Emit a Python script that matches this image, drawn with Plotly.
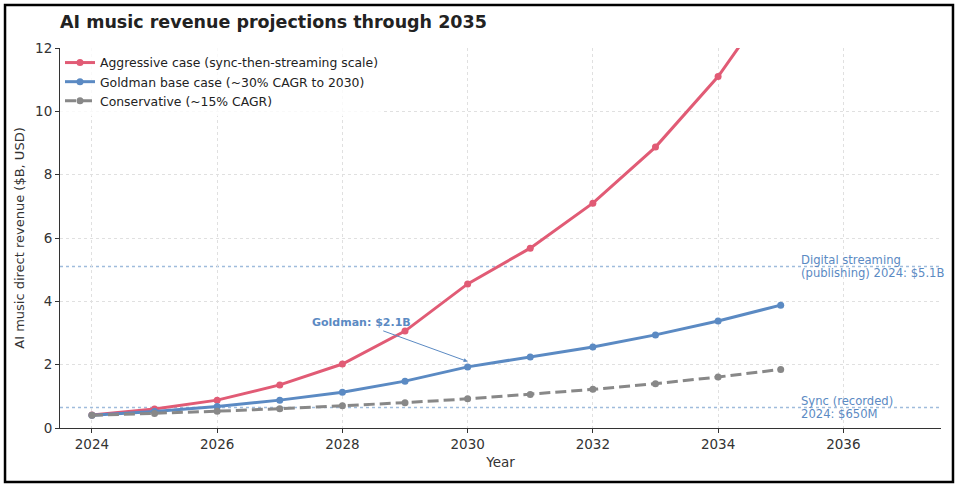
import plotly.graph_objects as go

# data
years = [2024, 2025, 2026, 2027, 2028, 2029, 2030, 2031, 2032, 2033, 2034, 2035]
aggressive = [0.41, 0.60, 0.88, 1.36, 2.02, 3.06, 4.55, 5.68, 7.10, 8.87, 11.10, 13.90]
goldman = [0.40, 0.52, 0.68, 0.88, 1.13, 1.48, 1.93, 2.24, 2.56, 2.94, 3.38, 3.88]
conservative = [0.40, 0.46, 0.53, 0.61, 0.70, 0.80, 0.92, 1.06, 1.22, 1.40, 1.61, 1.85]

ref_levels = [5.1, 0.65]
ref_labels = [["Digital streaming", "(publishing) 2024: $5.1B"], ["Sync (recorded)", "2024: $650M"]]

RED = "#e15b75"
BLUE = "#5b8ac3"
GREY = "#888888"
FONT = "DejaVu Sans"

fig = go.Figure()

fig.add_trace(go.Scatter(x=years, y=aggressive, mode="lines+markers", name="Aggressive case (sync-then-streaming scale)",
                         line=dict(color=RED, width=3), marker=dict(size=7, color=RED)))
fig.add_trace(go.Scatter(x=years, y=goldman, mode="lines+markers", name="Goldman base case (~30% CAGR to 2030)",
                         line=dict(color=BLUE, width=3), marker=dict(size=7, color=BLUE)))
fig.add_trace(go.Scatter(x=years, y=conservative, mode="lines+markers", name="Conservative (~15% CAGR)",
                         line=dict(color=GREY, width=3, dash="11px,5px"), marker=dict(size=7, color=GREY)))

# reference lines + labels (two lines each, tight spacing like the original)
for lvl, lines in zip(ref_levels, ref_labels):
    fig.add_hline(y=lvl, line=dict(color="#9fbcdc", width=1.5, dash="dot"), layer="below")
    for i, line in enumerate(lines):
        fig.add_annotation(x=2035.3, y=lvl, text=line, showarrow=False, xanchor="left", yanchor="middle",
                           yshift=6.5 - 13 * i, font=dict(family=FONT, size=11.6, color=BLUE))

# goldman callout
fig.add_annotation(x=2030, y=2.1, ax=2028.3, ay=3.32, axref="x", ayref="y",
                   text="<b>Goldman: $2.1B</b>", showarrow=True, arrowhead=2, arrowsize=0.8,
                   arrowwidth=1, arrowcolor=BLUE, font=dict(family=FONT, size=11, color=BLUE))

# outer frame
fig.add_shape(type="rect", xref="paper", yref="paper", x0=-0.0624, x1=1.0136, y0=-0.142, y1=1.113,
              line=dict(color="black", width=2.5), fillcolor="rgba(0,0,0,0)")

axis_style = dict(showgrid=True, gridcolor="#e0e0e0", griddash="3px,3px", gridwidth=1, zeroline=False,
                  showline=True, linecolor="#333", linewidth=1, ticks="outside", ticklen=4, tickcolor="#333",
                  tickfont=dict(size=13.5, color="#333"))
fig.update_xaxes(range=[2023.49, 2037.56], tickvals=list(range(2024, 2037, 2)),
                 title=dict(text="Year", font=dict(size=13.5, color="#333"), standoff=6), **axis_style)
fig.update_yaxes(range=[0, 12], tickvals=list(range(0, 13, 2)),
                 title=dict(text="AI music direct revenue ($B, USD)", font=dict(size=13, color="#333"), standoff=7),
                 **axis_style)

fig.update_layout(
    width=958, height=486,
    margin=dict(l=60, r=17, t=48, b=58),
    paper_bgcolor="white", plot_bgcolor="white",
    font=dict(family=FONT, color="#333"),
    title=dict(text="<b>AI music revenue projections through 2035</b>", x=60 / 958, xanchor="left",
               y=1 - 22 / 486, yanchor="middle", font=dict(size=17.5, color="#222")),
    legend=dict(x=0.0, y=1.0, xanchor="left", yanchor="top", bgcolor="rgba(255,255,255,0.8)",
                font=dict(size=12.4, color="#222"), tracegroupgap=0, itemwidth=30),
    showlegend=True,
)

# page has a default body margin; drop it so the figure sits at the window origin
fig.write_html("out.html", config={"displayModeBar": False},
               post_script="document.body.style.margin='0';")
